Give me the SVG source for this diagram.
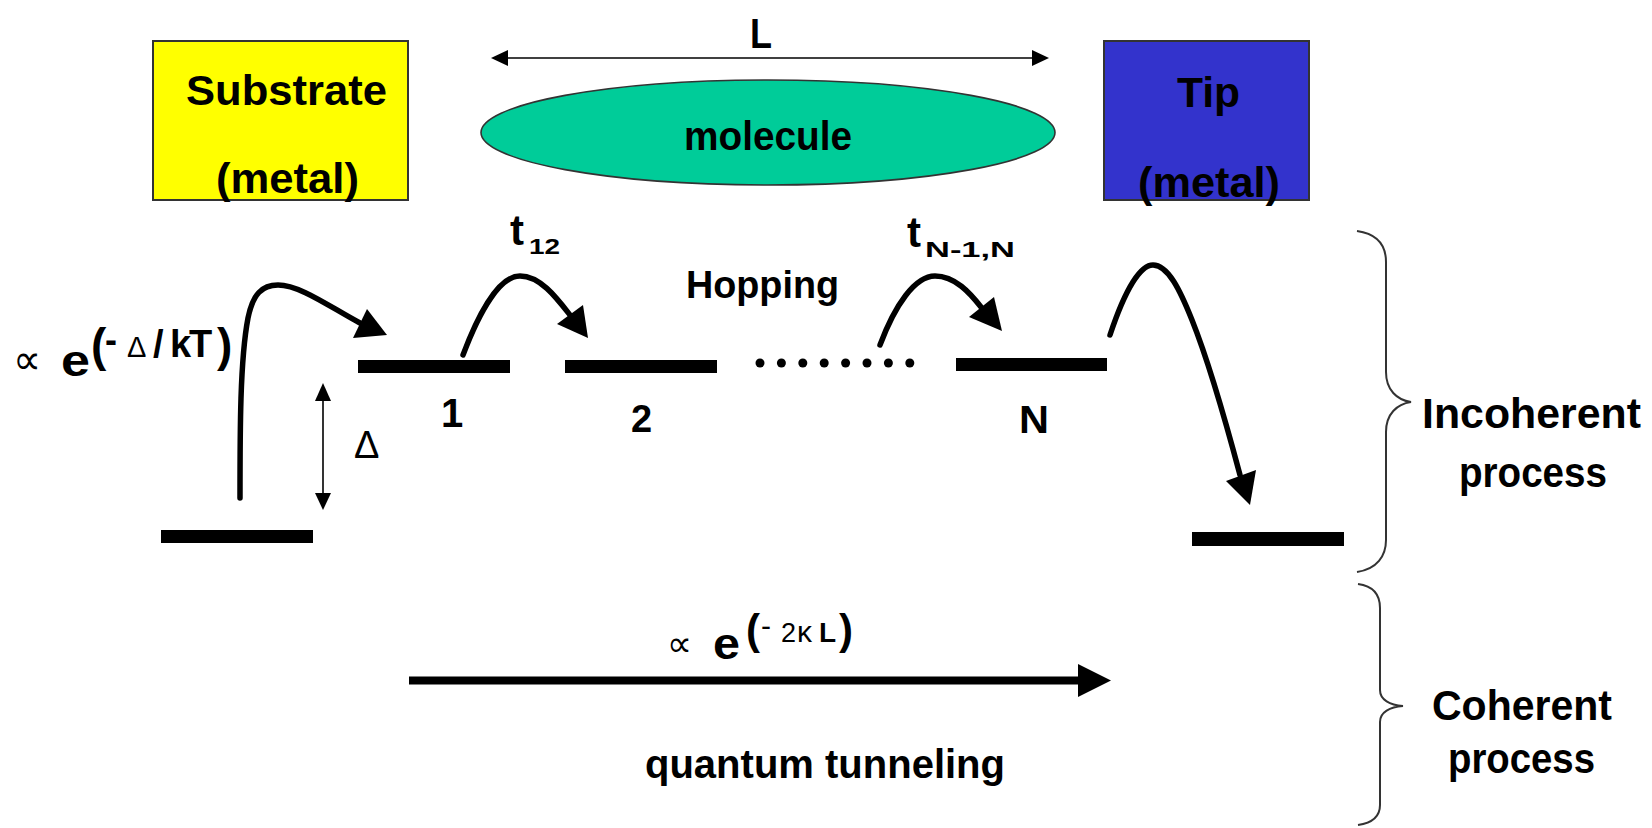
<svg xmlns="http://www.w3.org/2000/svg" width="1652" height="828" viewBox="0 0 1652 828">
<style>
  text { font-family: "Comic Sans MS", "Liberation Sans", "DejaVu Sans", sans-serif; font-weight: bold; fill: #000; }
  .thin { font-weight: normal; }
  .sym { font-family: "DejaVu Sans", "Liberation Sans", sans-serif; font-weight: normal; }
  .box { stroke: #333; stroke-width: 2; }
  .level { fill: #000; }
  .curve { fill: none; stroke: #000; stroke-width: 5.5; stroke-linecap: round; }
  .head { fill: #000; }
  .dim { fill: none; stroke: #000; stroke-width: 1.6; }
  .brace { fill: none; stroke: #333; stroke-width: 2; }
</style>
<rect width="1652" height="828" fill="#fff"/>

<g id="substrate">
  <rect class="box" x="153" y="41" width="255" height="159" fill="#FFFF00"/>
  <text x="186" y="105" font-size="42" textLength="201" lengthAdjust="spacingAndGlyphs">Substrate</text>
  <text x="216" y="193" font-size="42" textLength="143" lengthAdjust="spacingAndGlyphs">(metal)</text>
</g>

<g id="tip">
  <rect class="box" x="1104" y="41" width="205" height="159" fill="#3333CC"/>
  <text x="1177" y="107" font-size="42" textLength="63" lengthAdjust="spacingAndGlyphs">Tip</text>
  <text x="1138" y="197" font-size="42" textLength="142" lengthAdjust="spacingAndGlyphs">(metal)</text>
</g>

<g id="molecule">
  <ellipse cx="768" cy="132.5" rx="287" ry="52.5" fill="#00CC99" stroke="#333" stroke-width="1.6"/>
  <text x="684" y="150" font-size="40" textLength="168" lengthAdjust="spacingAndGlyphs">molecule</text>
</g>

<g id="length-L">
  <line class="dim" x1="505" y1="58" x2="1035" y2="58"/>
  <polygon class="head" points="491,58 508,50 508,66"/>
  <polygon class="head" points="1049,58 1032,50 1032,66"/>
  <text x="750" y="48" font-size="42" textLength="22" lengthAdjust="spacingAndGlyphs">L</text>
</g>

<g id="level-substrate">
  <rect class="level" x="161" y="530" width="152" height="13"/>
</g>
<g id="level-1">
  <rect class="level" x="358" y="360" width="152" height="13"/>
  <text x="441" y="427" font-size="40">1</text>
</g>
<g id="level-2">
  <rect class="level" x="565" y="360" width="152" height="13"/>
  <text x="631" y="432" font-size="38">2</text>
</g>
<g id="dots">
  <circle cx="760" cy="363" r="4.5"/>
  <circle cx="781.4" cy="363" r="4.5"/>
  <circle cx="802.8" cy="363" r="4.5"/>
  <circle cx="824.2" cy="363" r="4.5"/>
  <circle cx="845.6" cy="363" r="4.5"/>
  <circle cx="867" cy="363" r="4.5"/>
  <circle cx="888.4" cy="363" r="4.5"/>
  <circle cx="909.8" cy="363" r="4.5"/>
</g>
<g id="level-N">
  <rect class="level" x="956" y="358" width="151" height="13"/>
  <text x="1019" y="433" font-size="39" textLength="30" lengthAdjust="spacingAndGlyphs">N</text>
</g>
<g id="level-tip">
  <rect class="level" x="1192" y="532" width="152" height="14"/>
</g>

<g id="labels">
  <text x="686" y="298" font-size="38" textLength="153" lengthAdjust="spacingAndGlyphs">Hopping</text>
  <text x="510" y="245" font-size="42">t</text>
  <text x="529" y="254" font-size="22" textLength="31" lengthAdjust="spacingAndGlyphs">12</text>
  <text x="907" y="247" font-size="42">t</text>
  <text x="925" y="257" font-size="22" textLength="90" lengthAdjust="spacingAndGlyphs">N-1,N</text>
  <text class="thin" x="354" y="458" font-size="38" font-family="Liberation Sans, sans-serif">Δ</text>
  <!-- thermal activation formula -->
  <text class="sym" x="13" y="374" font-size="42" textLength="28" lengthAdjust="spacingAndGlyphs">∝</text>
  <text x="61" y="376" font-size="44" textLength="29" lengthAdjust="spacingAndGlyphs">e</text>
  <text y="361" font-size="46"><tspan x="91">(</tspan><tspan x="217">)</tspan></text>
  <text font-size="38"><tspan x="105" y="352" font-size="36">-</tspan><tspan class="thin" x="127" y="357" font-size="29">Δ</tspan><tspan x="153 170 189" y="357">/kT</tspan></text>
  <!-- tunneling formula -->
  <text class="sym" x="667" y="656" font-size="36" textLength="25" lengthAdjust="spacingAndGlyphs">∝</text>
  <text x="713" y="659" font-size="44" textLength="27" lengthAdjust="spacingAndGlyphs">e</text>
  <text y="644" font-size="42"><tspan x="746">(</tspan><tspan x="839">)</tspan></text>
  <text><tspan class="thin" x="761" y="636" font-size="30">-</tspan><tspan class="thin" x="781" y="642" font-size="27">2</tspan><tspan class="thin" x="797" y="642" font-size="30">κ</tspan><tspan x="819" y="642" font-size="28">L</tspan></text>
  <text x="645" y="778" font-size="40" textLength="360" lengthAdjust="spacingAndGlyphs">quantum tunneling</text>
  <text x="1422" y="428" font-size="42" textLength="219" lengthAdjust="spacingAndGlyphs">Incoherent</text>
  <text x="1459" y="487" font-size="42" textLength="148" lengthAdjust="spacingAndGlyphs">process</text>
  <text x="1432" y="720" font-size="42" textLength="180" lengthAdjust="spacingAndGlyphs">Coherent</text>
  <text x="1448" y="773" font-size="42" textLength="147" lengthAdjust="spacingAndGlyphs">process</text>
</g>

<g id="braces">
  <path class="brace" d="M1357,231 C1378,234 1386,246 1386,262 L1386,372 C1386,390 1397,400 1411,402 C1397,404 1386,414 1386,432 L1386,540 C1386,556 1377,569 1357,572"/>
  <path class="brace" d="M1358,584 C1373,586 1380,595 1380,608 L1380,690 C1380,700 1390,705 1403,706 C1390,707 1380,712 1380,722 L1380,805 C1380,817 1372,823 1358,825"/>
</g>

<g id="connectors">
  <!-- Delta double arrow -->
  <line class="dim" x1="323" y1="398" x2="323" y2="496"/>
  <polygon class="head" points="323,383 315,401 331,401"/>
  <polygon class="head" points="323,510 315,493 331,493"/>
  <!-- substrate to level 1 -->
  <path class="curve" d="M240,498 C240,430 240,360 248,318 C253,294 262,285 278,285 C300,285 330,307 360,323"/>
  <polygon class="head" points="387,335 353,338 367,309"/>
  <!-- level 1 to level 2 -->
  <path class="curve" d="M463,355 C480,310 500,276 520,276 C540,276 556,297 570,315"/>
  <polygon class="head" points="588,338 557,324 583,305"/>
  <!-- level N-1 to N -->
  <path class="curve" d="M880,345 C895,305 915,276 935,276 C955,276 970,293 981,307"/>
  <polygon class="head" points="1002,331 969,317 994,297"/>
  <!-- level N to tip -->
  <path class="curve" d="M1110,335 C1125,290 1140,265 1153,265 C1168,265 1180,290 1192,320 C1210,365 1228,430 1240,475"/>
  <polygon class="head" points="1250,505 1226,481 1256,470"/>
  <!-- coherent tunneling -->
  <line x1="409" y1="680.5" x2="1082" y2="680.5" stroke="#000" stroke-width="8"/>
  <polygon class="head" points="1078,664 1111,680.5 1078,697"/>
</g>
</svg>
